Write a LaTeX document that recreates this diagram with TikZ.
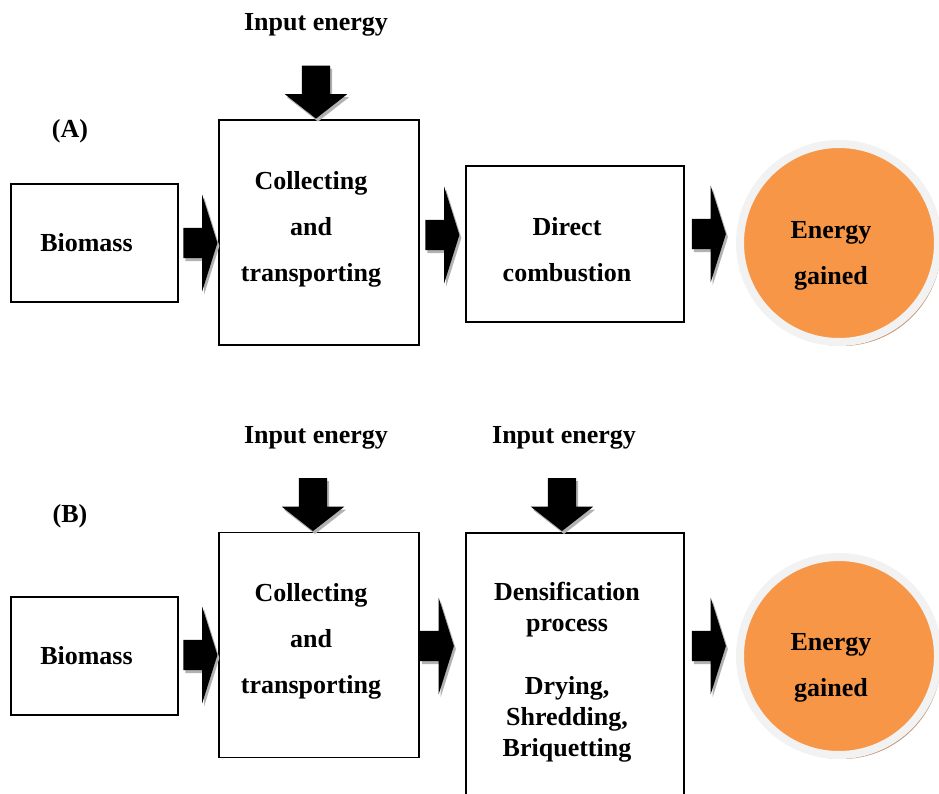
\documentclass[tikz,border=0pt]{standalone}
\usepackage{fontspec}
\setmainfont{Liberation Serif}
\usetikzlibrary{shapes.arrows, shadows, positioning}

\definecolor{orangefill}{RGB}{247,150,70}
\definecolor{ringgrey}{RGB}{242,242,242}
\definecolor{shadowtan}{RGB}{196,150,115}

\begin{document}
\begin{tikzpicture}[x = 1pt, y = -1pt,
        every node/.style={font=\fontsize{26}{31}\selectfont\bfseries},
        wide/.style={font=\fontsize{26}{46}\selectfont\bfseries},
        box/.style={draw, line width=1.4pt, inner sep=0pt},
        txt/.style={align=center, xshift=-8pt},
        rarrow/.style={single arrow, fill=black, inner xsep=0pt, inner ysep=15pt,
            minimum height=34pt, minimum width=96pt, single arrow head extend=33pt,
            single arrow tip angle=145,
            drop shadow={fill=black!30, shadow xshift=2pt, shadow yshift=-3pt, opacity=1}},
        darrow/.style={single arrow, rotate=-90, fill=black, inner xsep=0pt, inner ysep=14pt,
            minimum height=53pt, minimum width=62pt, single arrow head extend=17pt,
            single arrow tip angle=104,
            drop shadow={fill=black!30, shadow xshift=2pt, shadow yshift=-3pt, opacity=1}},
        energy/.style={circle, fill=orangefill, draw=ringgrey, line width=8pt,
            minimum size=198pt, inner sep=0pt,
            drop shadow={fill=shadowtan, shadow xshift=3pt, shadow yshift=-4pt, opacity=1}}]

        \useasboundingbox (0,0) rectangle (939,794);
        \clip (0,0) rectangle (939,794);

        % (A) direct combustion
        \node (labA) at (70,131) {(A)};
        \node[box, minimum width=167pt, minimum height=118pt,
            label={[txt]center:Biomass}] (bioA) at (94.5,243) {};
        \node[box, minimum width=200pt, minimum height=225pt,
            label={[txt, wide, yshift=3pt]center:{Collecting\\and\\transporting}}] (colA) at (319,232.5) {};
        \node[box, minimum width=218pt, minimum height=156pt,
            label={[txt, wide, yshift=-5.5pt]center:{Direct\\combustion}}] (dirA) at (575,244) {};
        \node[energy, label={[txt, wide, yshift=-13pt]center:{Energy\\gained}}] (engA) at (839,243) {};

        % (B) densification
        \node (labB) at (70,516) {(B)};
        \node[box, minimum width=167pt, minimum height=118pt,
            label={[txt]center:Biomass}] (bioB) at (94.5,656) {};
        \node[box, minimum width=200pt, minimum height=225pt,
            label={[txt, wide, yshift=4pt]center:{Collecting\\and\\transporting}}] (colB) at (319,645) {};
        \node[box, minimum width=218pt, minimum height=270pt,
            label={[txt, yshift=-4pt]center:{Densification\\process\\[32pt]Drying,\\Shredding,\\Briquetting}}] (denB) at (575,668) {};
        \node[energy, label={[txt, wide, yshift=-12pt]center:{Energy\\gained}}] (engB) at (839,656) {};

        \foreach \x/\y/\n in {316/25/inA, 316/438/inB, 564/438/inC}
        \node (\n) at (\x,\y) {Input energy};

        % block arrows
        \node[rarrow] (a1) at (198,243) {};
        \node[rarrow] (a2) at (440,235) {};
        \node[rarrow] (a3) at (706.5,234) {};
        \node[rarrow] (b1) at (198,655) {};
        \node[rarrow] (b2) at (434.5,646) {};
        \node[rarrow] (b3) at (706.5,646) {};

        \node[darrow] (d1) at (316,86.5) {};
        \node[darrow] (d2) at (313,499) {};
        \node[darrow] (d3) at (562,499) {};
        \end{tikzpicture}
\end{document}
